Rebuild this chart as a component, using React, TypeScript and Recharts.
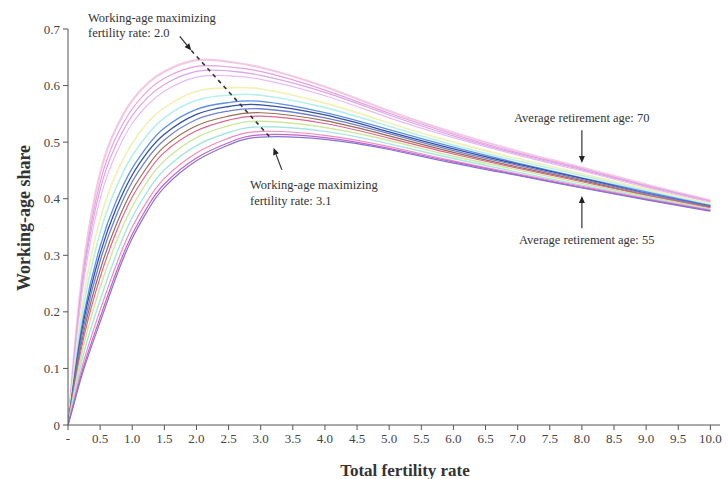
import React from "react";
import { LineChart, Line, XAxis, YAxis, ReferenceLine } from "recharts";

const tfr = [0, 0.1, 0.25, 0.5, 0.75, 1, 1.25, 1.5, 2, 2.5, 3, 4, 5, 6, 7, 8, 9, 10];

const r70 = [0, 0.13, 0.29, 0.445, 0.525, 0.574, 0.605, 0.625, 0.645, 0.642, 0.632, 0.598, 0.555, 0.517, 0.484, 0.455, 0.425, 0.397];
const r69 = [0, 0.125, 0.279, 0.429, 0.509, 0.559, 0.592, 0.613, 0.634, 0.633, 0.625, 0.592, 0.551, 0.514, 0.481, 0.453, 0.423, 0.396];
const r68 = [0, 0.12, 0.269, 0.416, 0.496, 0.547, 0.58, 0.602, 0.625, 0.626, 0.618, 0.588, 0.548, 0.511, 0.479, 0.451, 0.422, 0.395];
const r67 = [0, 0.115, 0.258, 0.4, 0.48, 0.533, 0.567, 0.59, 0.615, 0.617, 0.611, 0.582, 0.543, 0.508, 0.477, 0.449, 0.42, 0.394];
const r66 = [0, 0.102, 0.231, 0.364, 0.444, 0.498, 0.536, 0.561, 0.59, 0.596, 0.594, 0.569, 0.534, 0.5, 0.471, 0.444, 0.417, 0.391];
const r65 = [0, 0.094, 0.214, 0.34, 0.42, 0.476, 0.515, 0.543, 0.574, 0.583, 0.583, 0.561, 0.528, 0.495, 0.467, 0.441, 0.414, 0.389];
const r64 = [0, 0.086, 0.197, 0.316, 0.396, 0.454, 0.495, 0.525, 0.558, 0.57, 0.572, 0.552, 0.522, 0.491, 0.463, 0.437, 0.412, 0.388];
const r63 = [0, 0.081, 0.187, 0.303, 0.383, 0.442, 0.484, 0.514, 0.549, 0.563, 0.566, 0.548, 0.518, 0.488, 0.461, 0.436, 0.41, 0.387];
const r62 = [0, 0.077, 0.178, 0.29, 0.37, 0.43, 0.473, 0.504, 0.54, 0.555, 0.559, 0.543, 0.515, 0.485, 0.459, 0.434, 0.409, 0.386];
const r61 = [0, 0.072, 0.167, 0.274, 0.354, 0.415, 0.459, 0.492, 0.529, 0.546, 0.552, 0.538, 0.511, 0.482, 0.456, 0.432, 0.407, 0.385];
const r60 = [0, 0.067, 0.157, 0.261, 0.341, 0.403, 0.448, 0.482, 0.52, 0.539, 0.546, 0.533, 0.507, 0.479, 0.454, 0.43, 0.406, 0.384];
const r59 = [0, 0.061, 0.144, 0.243, 0.323, 0.386, 0.433, 0.467, 0.508, 0.529, 0.537, 0.526, 0.503, 0.475, 0.451, 0.427, 0.404, 0.382];
const r58 = [0, 0.054, 0.129, 0.221, 0.301, 0.367, 0.415, 0.451, 0.494, 0.517, 0.527, 0.519, 0.497, 0.471, 0.447, 0.424, 0.402, 0.381];
const r57 = [0, 0.047, 0.115, 0.203, 0.283, 0.35, 0.399, 0.436, 0.481, 0.507, 0.519, 0.512, 0.492, 0.467, 0.444, 0.422, 0.4, 0.38];
const r56 = [0, 0.043, 0.106, 0.19, 0.27, 0.337, 0.388, 0.426, 0.472, 0.499, 0.513, 0.508, 0.489, 0.465, 0.442, 0.42, 0.399, 0.379];
const r55 = [0, 0.04, 0.1, 0.182, 0.262, 0.33, 0.381, 0.42, 0.467, 0.495, 0.509, 0.505, 0.487, 0.463, 0.441, 0.419, 0.398, 0.378];

const seriesList = [
  { key: "r70", values: r70, color: "#f3c8e2", width: 2.2 },
  { key: "r69", values: r69, color: "#e8a0e2", width: 1.2 },
  { key: "r68", values: r68, color: "#d8a6ea", width: 1.2 },
  { key: "r67", values: r67, color: "#e8bcf2", width: 1.2 },
  { key: "r66", values: r66, color: "#f2f0b2", width: 1.6 },
  { key: "r65", values: r65, color: "#b6f0ec", width: 1.6 },
  { key: "r64", values: r64, color: "#5c8ee8", width: 1.3 },
  { key: "r63", values: r63, color: "#34509e", width: 1.3 },
  { key: "r62", values: r62, color: "#6f80d2", width: 1.3 },
  { key: "r61", values: r61, color: "#9a6c52", width: 1.2 },
  { key: "r60", values: r60, color: "#e0648c", width: 1.2 },
  { key: "r59", values: r59, color: "#cce89e", width: 1.4 },
  { key: "r58", values: r58, color: "#a6e6e2", width: 1.4 },
  { key: "r57", values: r57, color: "#f08cc2", width: 1.2 },
  { key: "r56", values: r56, color: "#c462c8", width: 1.2 },
  { key: "r55", values: r55, color: "#8474d2", width: 1.2 },
];

const xTicks = [0, 0.5, 1, 1.5, 2, 2.5, 3, 3.5, 4, 4.5, 5, 5.5, 6, 6.5, 7, 7.5, 8, 8.5, 9, 9.5, 10];
const yTicks = [0, 0.1, 0.2, 0.3, 0.4, 0.5, 0.6, 0.7];

const data = tfr.map((x, i) => {
  const row: any = { tfr: x };
  seriesList.forEach((s) => {
    row[s.key] = s.values[i];
  });
  return row;
});

const FONT = "'Liberation Serif', 'DejaVu Serif', serif";

const arrowShape = (dashed: boolean, head: boolean) => (props: any) => {
  const { x1, y1, x2, y2 } = props;
  if ([x1, y1, x2, y2].some((v) => v == null || isNaN(v))) return <g />;
  const ang = Math.atan2(y2 - y1, x2 - x1);
  const L = 7;
  const W = 3;
  const bx = x2 - L * Math.cos(ang);
  const by = y2 - L * Math.sin(ang);
  const px = -Math.sin(ang) * W;
  const py = Math.cos(ang) * W;
  return (
    <g>
      <line x1={x1} y1={y1} x2={head ? bx : x2} y2={head ? by : y2} stroke="#333" strokeWidth={dashed ? 1.6 : 1.2} strokeDasharray={dashed ? "4 4" : undefined} />
      {head && <polygon points={`${x2},${y2} ${bx + px},${by + py} ${bx - px},${by - py}`} fill="#222" />}
    </g>
  );
};

export default function App() {
  return (
    <div style={{ position: "absolute", left: 0, top: 0, width: 728, height: 479, background: "#fff" }}>
      <LineChart width={728} height={479} data={data} margin={{ top: 29, right: 8, bottom: 0, left: 0 }}>
        <XAxis
          dataKey="tfr"
          type="number"
          domain={[0, 10.15]}
          ticks={xTicks}
          interval={0}
          tickFormatter={(v: number) => (v === 0 ? "-" : v.toFixed(1))}
          tick={{ fill: "#444", fontSize: 13, fontFamily: FONT }}
          tickSize={5}
          tickMargin={4}
          stroke="#555"
          height={54}
          allowDataOverflow
        />
        <YAxis
          type="number"
          domain={[0, 0.7]}
          ticks={yTicks}
          interval={0}
          tickFormatter={(v: number) => (v === 0 ? "0" : v.toFixed(1))}
          tick={{ fill: "#444", fontSize: 13, fontFamily: FONT }}
          tickSize={5}
          tickMargin={3}
          stroke="#555"
          width={68}
        />
        {seriesList.map((s) => (
          <Line
            key={s.key}
            dataKey={s.key}
            type="natural"
            stroke={s.color}
            strokeWidth={s.width}
            dot={false}
            isAnimationActive={false}
          />
        ))}
        <ReferenceLine segment={[{ x: 1.92, y: 0.662 }, { x: 3.15, y: 0.508 }]} shape={arrowShape(true, false)} ifOverflow="visible" />
        <ReferenceLine segment={[{ x: 1.74, y: 0.687 }, { x: 1.92, y: 0.662 }]} shape={arrowShape(false, true)} ifOverflow="visible" />
        <ReferenceLine segment={[{ x: 3.33, y: 0.451 }, { x: 3.2, y: 0.49 }]} shape={arrowShape(false, true)} ifOverflow="visible" />
        <ReferenceLine segment={[{ x: 8, y: 0.521 }, { x: 8, y: 0.463 }]} shape={arrowShape(false, true)} ifOverflow="visible" />
        <ReferenceLine segment={[{ x: 8, y: 0.348 }, { x: 8, y: 0.405 }]} shape={arrowShape(false, true)} ifOverflow="visible" />
      </LineChart>
      <svg width={728} height={479} style={{ position: "absolute", left: 0, top: 0, pointerEvents: "none" }}>
        <g fontFamily={FONT} fontSize={12.5} fill="#333">
          <text x={88} y={22}>Working-age maximizing</text>
          <text x={88} y={37}>fertility rate: 2.0</text>
          <text x={250} y={189}>Working-age maximizing</text>
          <text x={250} y={205}>fertility rate: 3.1</text>
          <text x={514} y={122}>Average retirement age: 70</text>
          <text x={519} y={244}>Average retirement age: 55</text>
        </g>
        <text x={405} y={476} textAnchor="middle" fontFamily={FONT} fontSize={17} fontWeight="bold" fill="#333">
          Total fertility rate
        </text>
        <text
          x={0}
          y={0}
          transform="translate(30,218) rotate(-90)"
          textAnchor="middle"
          fontFamily={FONT}
          fontSize={18}
          fontWeight="bold"
          fill="#333"
        >
          Working-age share
        </text>
      </svg>
    </div>
  );
}
